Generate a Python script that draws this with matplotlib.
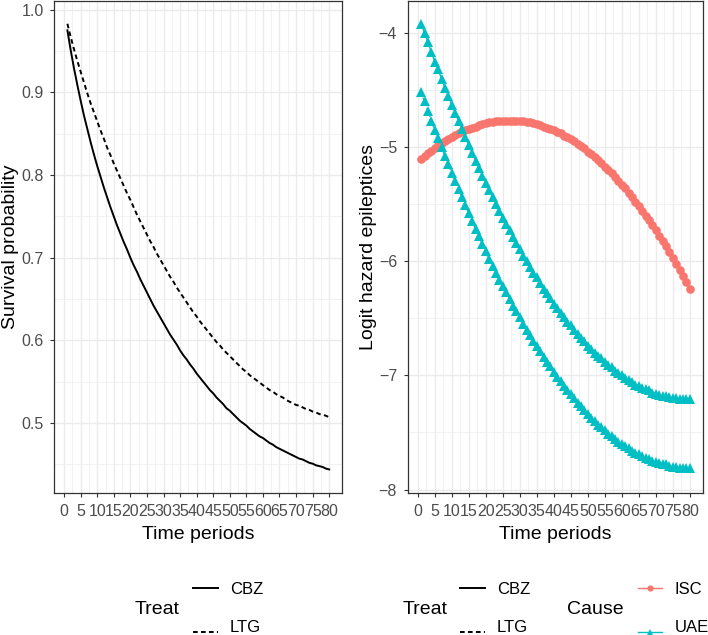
import matplotlib
matplotlib.use('Agg')
import matplotlib.pyplot as plt
from matplotlib.lines import Line2D
import numpy as np

plt.rcParams['font.family'] = ['Liberation Sans', 'DejaVu Sans']

# -- data

periods = np.arange(1, 81)

surv_cbz = [0.975, 0.951, 0.929, 0.909, 0.890, 0.872, 0.856, 0.840, 0.825, 0.811,
            0.798, 0.785, 0.773, 0.761, 0.750, 0.739, 0.729, 0.719, 0.710, 0.700,
            0.691, 0.683, 0.674, 0.666, 0.658, 0.650, 0.642, 0.635, 0.628, 0.621,
            0.614, 0.607, 0.601, 0.595, 0.588, 0.582, 0.577, 0.571, 0.566, 0.560,
            0.555, 0.550, 0.545, 0.540, 0.536, 0.531, 0.527, 0.523, 0.518, 0.515,
            0.511, 0.507, 0.503, 0.500, 0.497, 0.493, 0.490, 0.487, 0.484, 0.482,
            0.479, 0.476, 0.474, 0.471, 0.469, 0.467, 0.465, 0.463, 0.461, 0.459,
            0.457, 0.456, 0.454, 0.452, 0.451, 0.449, 0.448, 0.447, 0.445, 0.444]

surv_ltg = [0.983, 0.967, 0.952, 0.938, 0.925, 0.912, 0.899, 0.887, 0.876, 0.865,
            0.854, 0.844, 0.833, 0.824, 0.814, 0.805, 0.796, 0.787, 0.778, 0.770,
            0.761, 0.752, 0.744, 0.736, 0.728, 0.720, 0.713, 0.705, 0.698, 0.691,
            0.684, 0.677, 0.671, 0.664, 0.658, 0.652, 0.646, 0.640, 0.634, 0.629,
            0.623, 0.618, 0.613, 0.608, 0.603, 0.598, 0.594, 0.589, 0.585, 0.581,
            0.577, 0.573, 0.569, 0.565, 0.562, 0.558, 0.555, 0.552, 0.549, 0.546,
            0.543, 0.540, 0.538, 0.535, 0.533, 0.531, 0.528, 0.526, 0.524, 0.522,
            0.521, 0.519, 0.517, 0.516, 0.514, 0.513, 0.511, 0.510, 0.509, 0.507]

isc = [-5.10, -5.08, -5.05, -5.03, -5.01, -4.98, -4.96, -4.95, -4.93, -4.91,
       -4.89, -4.88, -4.86, -4.85, -4.84, -4.83, -4.82, -4.81, -4.80, -4.79,
       -4.78, -4.78, -4.77, -4.77, -4.77, -4.77, -4.77, -4.77, -4.77, -4.77,
       -4.77, -4.78, -4.78, -4.79, -4.80, -4.81, -4.82, -4.83, -4.84, -4.85,
       -4.87, -4.88, -4.90, -4.91, -4.93, -4.95, -4.97, -4.99, -5.01, -5.04,
       -5.06, -5.09, -5.11, -5.14, -5.17, -5.20, -5.23, -5.26, -5.30, -5.33,
       -5.36, -5.40, -5.44, -5.48, -5.52, -5.56, -5.60, -5.64, -5.68, -5.73,
       -5.78, -5.82, -5.87, -5.92, -5.97, -6.02, -6.08, -6.13, -6.18, -6.24]

uae_cbz = [-3.92, -4.00, -4.08, -4.17, -4.25, -4.32, -4.40, -4.48, -4.55, -4.63,
           -4.70, -4.77, -4.84, -4.91, -4.98, -5.05, -5.12, -5.18, -5.25, -5.31,
           -5.38, -5.44, -5.50, -5.56, -5.62, -5.67, -5.73, -5.79, -5.84, -5.89,
           -5.95, -6.00, -6.05, -6.10, -6.14, -6.19, -6.24, -6.28, -6.32, -6.37,
           -6.41, -6.45, -6.49, -6.53, -6.56, -6.60, -6.64, -6.67, -6.70, -6.74,
           -6.77, -6.80, -6.83, -6.85, -6.88, -6.91, -6.93, -6.96, -6.98, -7.00,
           -7.02, -7.04, -7.06, -7.08, -7.09, -7.11, -7.12, -7.13, -7.15, -7.16,
           -7.17, -7.18, -7.18, -7.19, -7.20, -7.20, -7.21, -7.21, -7.21, -7.21]

uae_ltg = [-4.52, -4.60, -4.68, -4.77, -4.85, -4.92, -5.00, -5.08, -5.15, -5.23,
           -5.30, -5.37, -5.44, -5.51, -5.58, -5.65, -5.72, -5.78, -5.85, -5.91,
           -5.98, -6.04, -6.10, -6.16, -6.22, -6.27, -6.33, -6.39, -6.44, -6.49,
           -6.55, -6.60, -6.65, -6.70, -6.74, -6.79, -6.84, -6.88, -6.92, -6.97,
           -7.01, -7.05, -7.09, -7.13, -7.16, -7.20, -7.24, -7.27, -7.30, -7.34,
           -7.37, -7.40, -7.43, -7.45, -7.48, -7.51, -7.53, -7.56, -7.58, -7.60,
           -7.62, -7.64, -7.66, -7.68, -7.69, -7.71, -7.72, -7.73, -7.75, -7.76,
           -7.77, -7.78, -7.78, -7.79, -7.80, -7.80, -7.81, -7.81, -7.81, -7.81]

x_ticks = list(range(0, 81, 5))
red = '#F8766D'
cyan = '#00BFC4'
dash = (0, (2.4, 1.7))

W, H = 708, 635
fig = plt.figure(figsize=(W / 100, H / 100), dpi=100)


def style(ax, ymajor, yminor):
    ax.set_xlim(-2.95, 83.95)
    ax.set_xticks(x_ticks)
    ax.set_xticks(np.arange(2.5, 81, 5), minor=True)
    ax.set_yticks(ymajor)
    ax.set_yticks(yminor, minor=True)
    ax.grid(which='major', color='#EBEBEB', lw=1.0)
    ax.grid(which='minor', color='#EBEBEB', lw=0.5)
    ax.set_axisbelow(True)
    ax.tick_params(which='major', length=3.2, width=0.8, color='#333333',
                   labelsize=11.5, labelcolor='#4D4D4D', pad=4.5)
    ax.tick_params(which='minor', length=0)
    for s in ax.spines.values():
        s.set_color('#333333')
        s.set_linewidth(0.9)
    ax.set_xlabel('Time periods', fontsize=14, labelpad=5)


# -- left panel: survival
ax1 = fig.add_axes([54.3 / W, 1 - 493 / H, 288 / W, 492 / H])
ax1.plot(periods, surv_cbz, color='black', lw=1.4, ls='-')
ax1.plot(periods, surv_ltg, color='black', lw=1.4, ls=dash)
ax1.set_ylim(0.4155, 1.0105)
style(ax1, [0.5, 0.6, 0.7, 0.8, 0.9, 1.0], [0.45, 0.55, 0.65, 0.75, 0.85, 0.95])
ax1.set_yticklabels(['0.5', '0.6', '0.7', '0.8', '0.9', '1.0'])
ax1.set_ylabel('Survival probability', fontsize=14, labelpad=1.5)

# -- right panel: logit hazard
ax2 = fig.add_axes([407.7 / W, 1 - 493 / H, 295.6 / W, 492 / H])
ax2.plot(periods, isc, color=red, lw=1.0, marker='o', ms=6.2, mew=0)
ax2.plot(periods, uae_cbz, color=cyan, lw=1.0, marker='^', ms=6.5, mew=0)
ax2.plot(periods, uae_ltg, color=cyan, lw=1.0, ls=dash, marker='^', ms=6.5, mew=0)
ax2.set_ylim(-8.03, -3.72)
style(ax2, [-8, -7, -6, -5, -4], [-7.5, -6.5, -5.5, -4.5])
ax2.set_ylabel('Logit hazard epileptices', fontsize=14, labelpad=1.5)


# -- legends (placed in pixel coordinates of the figure)
def fx(px):
    return px / W


def fy(py):
    return 1 - py / H


def key(x0, x1, y, **kw):
    fig.add_artist(Line2D([fx(x0), fx(x1)], [fy(y), fy(y)], transform=fig.transFigure, **kw))


for tx, kx, lx in [(135, 193, 230), (403, 460, 497)]:
    fig.text(fx(tx), fy(610), 'Treat', fontsize=14, va='center')
    key(kx, kx + 25, 588, color='black', lw=1.4)
    key(kx, kx + 25, 632, color='black', lw=1.4, ls=dash)
    fig.text(fx(lx), fy(589), 'CBZ', fontsize=12, va='center')
    fig.text(fx(lx), fy(628), 'LTG', fontsize=12, va='center')

fig.text(fx(567), fy(610), 'Cause', fontsize=14, va='center')
key(638, 662, 588, color=red, lw=1.0)
key(638, 662, 632, color=cyan, lw=1.0)
fig.add_artist(Line2D([fx(650)], [fy(588)], transform=fig.transFigure,
                      color=red, marker='o', ms=4.5, mew=0, ls='none'))
fig.add_artist(Line2D([fx(650)], [fy(632)], transform=fig.transFigure,
                      color=cyan, marker='^', ms=5, mew=0, ls='none'))
fig.text(fx(675), fy(589), 'ISC', fontsize=12, va='center')
fig.text(fx(675), fy(628), 'UAE', fontsize=12, va='center')

fig.savefig('out.png', dpi=100)
